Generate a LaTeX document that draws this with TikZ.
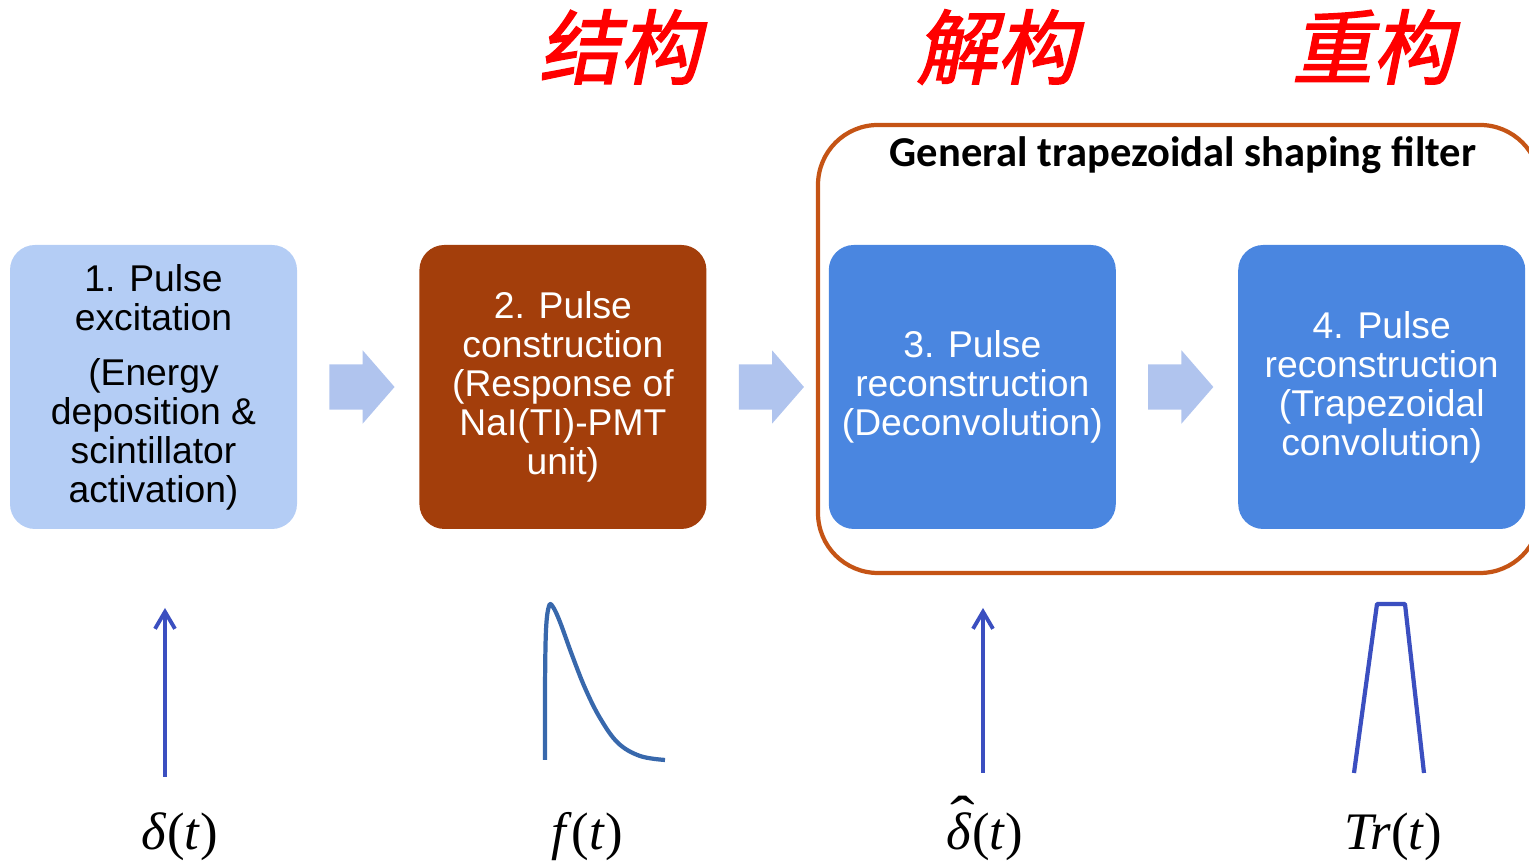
\documentclass[tikz,border=0pt]{standalone}
\usepackage{fontspec}
\setmainfont{Liberation Sans}
\newfontfamily\titlefont{Carlito}
\newfontfamily\mathserif{Liberation Serif}
\newfontfamily\cjk[FakeSlant=0.2,FakeBold=2]{Noto Sans CJK SC}
\usetikzlibrary{positioning, shapes.arrows, arrows.meta}

\definecolor{excitefill}{RGB}{180,205,245}
\definecolor{constrfill}{RGB}{163,62,11}
\definecolor{reconfill}{RGB}{74,134,224}
\definecolor{flowfill}{RGB}{176,196,238}
\definecolor{framecol}{RGB}{197,84,21}
\definecolor{sigblue}{RGB}{59,79,192}
\definecolor{pulseblue}{RGB}{56,104,172}

\newcommand{\hatdelta}{\rlap{\smash{\hspace{0.06em}\raisebox{0.26em}{\scalebox{1.4}[1.1]{ˆ}}}}\textit{δ}}

\begin{document}
\begin{tikzpicture}[
        stage/.style={rounded corners=0.25cm, align=center, minimum width=2.87cm, minimum height=2.84cm, inner sep=0pt, font=\fontsize{10.6}{11.1}\selectfont},
        excite/.style={stage, fill=excitefill, text=black},
        constr/.style={stage, fill=constrfill, text=white},
        recon/.style={stage, fill=reconfill, text=white},
        flow/.style={single arrow, fill=flowfill, draw=none, minimum height=0.58cm, minimum width=0.72cm, inner sep=0.22cm, single arrow head extend=0.14cm, single arrow tip angle=98},
        phase/.style={text=red, font=\cjk\fontsize{23}{25}\selectfont},
        sig/.style={font=\mathserif\fontsize{15}{17}\selectfont},
        spike/.style={sigblue, line width=1.1pt, -{Straight Barb[length=0.17cm, width=0.2cm]}},
        wave/.style={line width=1.2pt, line join=round}
    ]

    \useasboundingbox (0,0) rectangle (15.29,8.61);
    \clip (0,0) rectangle (15.29,8.61);

    % Stages
    \node[excite] (exc) at (1.535,4.74) {1. Pulse\\excitation\\[0.16cm](Energy\\deposition \&\\scintillator\\activation)};
    \node[constr, right=1.21cm of exc] (con) {2. Pulse\\construction\\(Response of\\NaI(TI)-PMT\\unit)};
    \node[recon, right=1.21cm of con] (dec) {3. Pulse\\reconstruction\\(Deconvolution)};
    \node[recon, right=1.21cm of dec] (trp) {4. Pulse\\reconstruction\\(Trapezoidal\\convolution)};

    % Block arrows between stages
    \node[flow, right=0.31cm of exc] (f1) {};
    \node[flow, right=0.31cm of con] (f2) {};
    \node[flow, right=0.31cm of dec] (f3) {};

    % Filter frame
    \node[draw=framecol, line width=1.2pt, rounded corners=0.6cm, minimum width=7.22cm, minimum height=4.48cm] (filter) at (11.79,5.12) {};
    \node[font=\titlefont\bfseries\fontsize{12.1}{14}\selectfont] (ftitle) at (11.83,7.06) {General trapezoidal shaping filter};

    % Phase labels
    \node[phase] (jg) at (6.20,8.14) {结构};
    \node[phase] (jjg) at (9.97,8.14) {解构};
    \node[phase] (cg) at (13.73,8.14) {重构};

    % Signals
    \draw[spike] (1.65,0.84) -- (1.65,2.53);
    \draw[wave, pulseblue] plot[smooth, tension=0.6] coordinates {(5.45,1.01) (5.45,1.71) (5.46,2.31) (5.49,2.55) (5.53,2.54) (5.60,2.39) (5.72,2.06) (5.85,1.73) (6.00,1.43) (6.18,1.18) (6.40,1.05) (6.65,1.01)};
    \draw[spike] (9.83,0.88) -- (9.83,2.53);
    \draw[wave, sigblue] (13.54,0.88) -- (13.77,2.57) -- (14.05,2.57) -- (14.24,0.88);

    % Signal names
    \node[sig] (sd) at (1.80,0.24) {\textit{δ}(\textit{t})};
    \node[sig] (sf) at (5.87,0.24) {\textit{f}(\textit{t})};
    \node[sig] (sdh) at (9.85,0.24) {\hatdelta(\textit{t})};
    \node[sig] (str) at (13.93,0.24) {\textit{Tr}(\textit{t})};

\end{tikzpicture}
\end{document}
